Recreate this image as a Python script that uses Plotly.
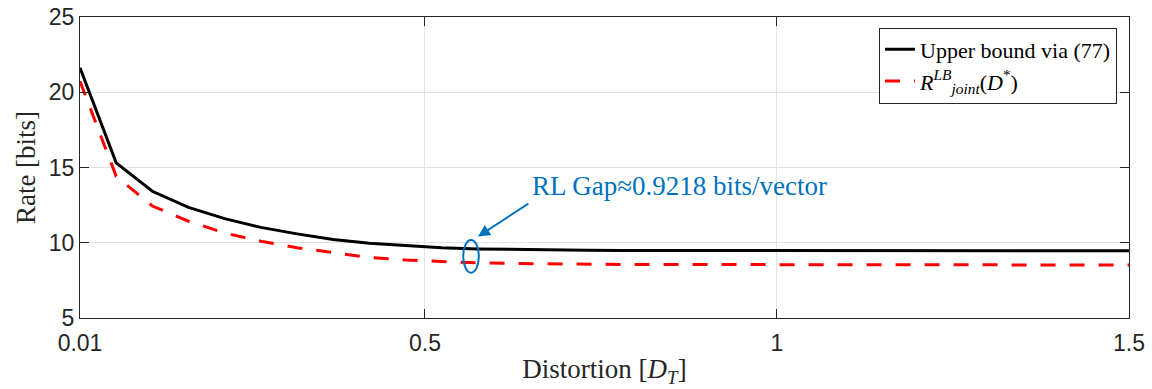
import plotly.graph_objects as go

distortion = [0.01, 0.0614, 0.1128, 0.1641, 0.2155, 0.2669, 0.3183, 0.3697, 0.4210, 0.4724,
              0.5238, 0.5752, 0.6266, 0.6779, 0.7293, 0.7807, 0.8321, 0.8834, 0.9348, 0.9862,
              1.0376, 1.0890, 1.1403, 1.1917, 1.2431, 1.2945, 1.3459, 1.3972, 1.4486, 1.5]
upper_bound = [21.62, 15.31, 13.42, 12.35, 11.60, 11.02, 10.59, 10.21, 9.96, 9.80,
               9.66, 9.59, 9.55, 9.52, 9.50, 9.49, 9.485, 9.48, 9.48, 9.475,
               9.475, 9.47, 9.47, 9.47, 9.47, 9.47, 9.47, 9.47, 9.47, 9.47]
lower_bound = [20.73, 14.41, 12.44, 11.43, 10.65, 10.10, 9.67, 9.34, 9.02, 8.85,
               8.73, 8.66, 8.62, 8.59, 8.57, 8.56, 8.555, 8.55, 8.545, 8.54,
               8.54, 8.535, 8.53, 8.53, 8.525, 8.525, 8.52, 8.52, 8.52, 8.52]

x_ticks = [0.01, 0.5, 1, 1.5]
x_tick_text = ["0.01", "0.5", "1", "1.5"]
y_ticks = [5, 10, 15, 20, 25]

serif = "Liberation Serif"
sans = "Liberation Sans"
axis_col = "#262626"
blue = "#0072BD"

fig = go.Figure()
fig.add_trace(go.Scatter(x=distortion, y=upper_bound, mode="lines",
                         name="Upper bound via (77)",
                         line=dict(color="black", width=3)))
fig.add_trace(go.Scatter(x=distortion, y=lower_bound, mode="lines",
                         name="<i>R</i><sup><i>LB</i></sup><sub><i>joint</i></sub>(<i>D</i><sup>*</sup>)",
                         line=dict(color="#FF0000", width=3, dash="15px,14px")))

fig.update_layout(
    width=1152, height=389,
    margin=dict(l=80, r=23, t=17, b=71),
    paper_bgcolor="white", plot_bgcolor="white",
    showlegend=True,
    legend=dict(x=0.9886, y=0.965, xanchor="right", yanchor="top",
                bgcolor="white", bordercolor=axis_col, borderwidth=1,
                font=dict(family=serif, size=22, color="black"),
                tracegroupgap=0, itemwidth=30),
    xaxis=dict(range=[0.01, 1.5], tickvals=x_ticks, ticktext=x_tick_text,
               showgrid=True, gridcolor="#e3e3e3", gridwidth=1,
               showline=True, linecolor=axis_col, linewidth=1, mirror="ticks",
               ticks="inside", ticklen=9, tickcolor=axis_col,
               tickfont=dict(family=sans, size=23, color=axis_col),
               ticklabelstandoff=4,
               zeroline=False, automargin=False,
               title=dict(text="Distortion [<i>D</i><sub><i>T</i></sub>]",
                          font=dict(family=serif, size=27, color=axis_col), standoff=4)),
    yaxis=dict(range=[5, 25], tickvals=y_ticks,
               showgrid=True, gridcolor="#e3e3e3", gridwidth=1,
               showline=True, linecolor=axis_col, linewidth=1, mirror="ticks",
               ticks="inside", ticklen=9, tickcolor=axis_col,
               tickfont=dict(family=sans, size=23, color=axis_col),
               zeroline=False, automargin=False,
               title=dict(text="Rate [bits]",
                          font=dict(family=serif, size=27, color=axis_col), standoff=5)),
)

# ellipse marking the gap
fig.add_shape(type="circle", xref="x", yref="y",
              x0=0.5543, x1=0.5765, y0=8.01, y1=10.19,
              line=dict(color=blue, width=2))
# arrow
fig.add_annotation(x=0.5753, y=10.41, ax=0.649, ay=12.67, xref="x", yref="y",
                   axref="x", ayref="y", text="", showarrow=True,
                   arrowhead=2, arrowsize=1.2, arrowwidth=2, arrowcolor=blue)
# text
fig.add_annotation(x=0.649, y=13.75, xref="x", yref="y", text="RL Gap≈0.9218 bits/vector",
                   showarrow=False, xanchor="left", yanchor="middle",
                   font=dict(family=serif, size=27, color=blue))

fig.write_html("out.html")
